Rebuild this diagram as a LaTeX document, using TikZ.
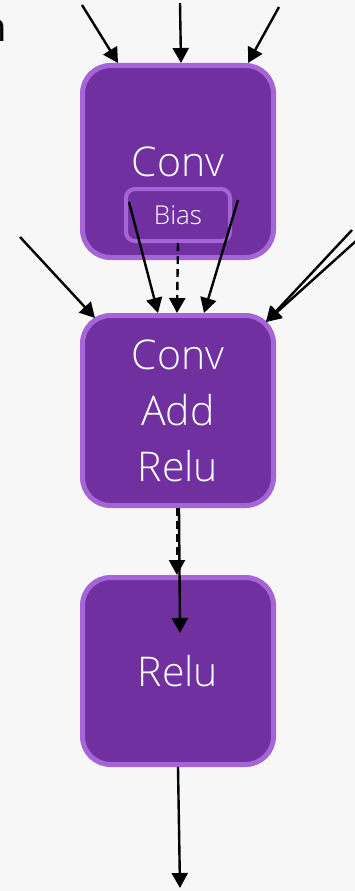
\documentclass[tikz,border=0pt]{standalone}
\usepackage{fontspec}
\setmainfont{Open Sans}[UprightFont={* Light}]
\newfontfamily\regularfont{Open Sans}
\usetikzlibrary{arrows.meta,calc}
\definecolor{bgcol}{HTML}{F7F7F7}
\definecolor{opfill}{HTML}{7030A0}
\definecolor{opedge}{HTML}{A466D6}
\tikzset{
  opbox/.style={draw=opedge, fill=opfill, line width=5pt, rounded corners=28pt,
    minimum width=191pt, text=white, align=center,
    font=\fontsize{41}{56}\selectfont},
  biasbox/.style={draw=opedge, fill=opfill, line width=4pt, rounded corners=9pt,
    minimum width=104pt, minimum height=52pt, text=white,
    font=\fontsize{26}{28}\selectfont},
  flow/.style={line width=2.4pt, -{Triangle[length=15pt,width=16pt]}},
  ctrl/.style={flow, dashed, dash pattern=on 8pt off 5pt},
}
\begin{document}
\begin{tikzpicture}[x=1pt, y=-1pt]
  \fill[bgcol] (0,0) rectangle (355,891);
  \useasboundingbox (0,0) rectangle (355,891);

  % partly visible text at the left edge
  \node[anchor=base east, inner sep=0pt, font=\regularfont\fontsize{40}{48}\selectfont] (cut) at (7,42) {n};

  % operators
  \node[opbox, minimum height=192pt] (conv) at (178,161.5) {Conv};
  \node[biasbox] (bias) at (178,215) {Bias};
  \node[opbox, minimum height=190pt] (fused) at (178,410.5) {Conv\\Add\\Relu};
  \node[opbox, minimum height=187pt] (relu) at (178,671) {Relu};

  % free ends of the connectors
  \coordinate (in1) at (82,5);
  \coordinate (in2) at (180,3);
  \coordinate (in3) at (279,7);
  \coordinate (in4) at (20,237);
  \coordinate (in5) at (352,230);
  \coordinate (in6) at (356,241);
  \coordinate (inner) at (180,633);
  \coordinate (out) at (180,888);

  % inputs of the first Conv
  \draw[flow] (in1) -- ([xshift=-60pt]conv.north);
  \draw[flow] (in2) -- ([xshift=3pt]conv.north);
  \draw[flow] (in3) -- ([xshift=70pt]conv.north);

  % inputs of the fused operator
  \draw[flow] ($(bias.west)+(5,-13)$) -- ([xshift=-20pt]fused.north);
  \draw[flow] ($(bias.east)+(6,-15)$) -- ([xshift=26pt]fused.north);
  \draw[ctrl] (bias.south) -- ([xshift=-1pt]fused.north);
  \draw[flow] (in4) -- ($(fused.north west)+(15,5)$);
  \draw[flow] (in5) -- ($(fused.north east)+(-10,9)$);
  \draw[flow] (in6) -- ($(fused.north east)+(-10,9)$);

  % fused operator to Relu
  \draw[ctrl] ([xshift=-1pt]fused.south) -- ([xshift=-1pt]relu.north);
  \draw[flow] ([xshift=1pt]fused.south) -- (inner);

  % output
  \draw[flow] (relu.south) -- (out);
\end{tikzpicture}
\end{document}
